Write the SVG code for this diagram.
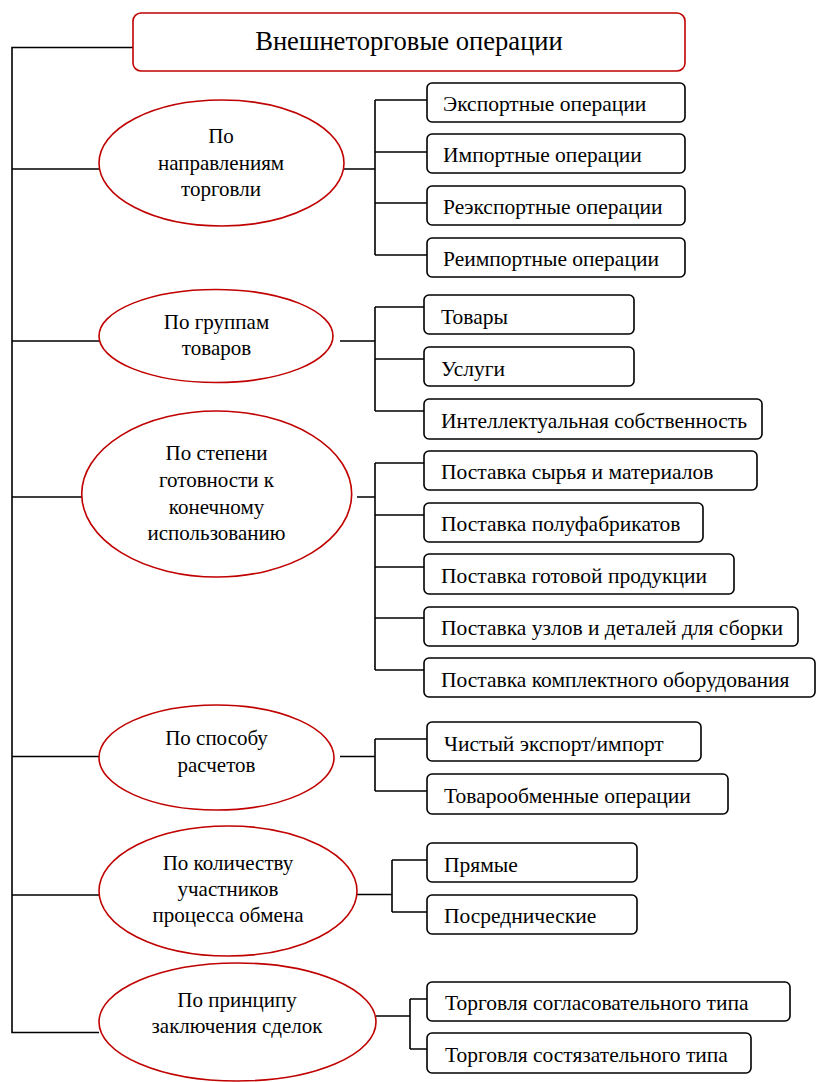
<svg xmlns="http://www.w3.org/2000/svg" width="816" height="1082" viewBox="0 0 816 1082">
<style>
.bg{fill:#fff}
.root{fill:#fff;stroke:#c00000;stroke-width:1.6}
.ell{fill:#fff;stroke:#c00000;stroke-width:1.6}
.box{fill:#fff;stroke:#000;stroke-width:1.6}
.con{fill:none;stroke:#000;stroke-width:1.6}
text{font-family:"Liberation Serif","Times New Roman",serif;fill:#000}
.rt{font-size:26.6px;text-anchor:middle}
.et{font-size:21px;text-anchor:middle}
.bt{font-size:21.5px}
</style>
<rect class="bg" x="0" y="0" width="816" height="1082"/>
<g id="connectors" class="con">
<path d="M133,47.5 H12 V1032.5 H99"/>
<path d="M12,169 H99 M12,341 H99 M12,497 H82 M12,756.5 H99 M12,895 H99"/>
<path d="M340,169 H375 M375,100 V255 M375,100 H427 M375,152 H427 M375,203 H427 M375,255 H427"/>
<path d="M340,341 H375 M375,307 V411 M375,307 H424 M375,359 H424 M375,411 H424"/>
<path d="M357,497 H375 M375,463 V670 M375,463 H424 M375,515 H424 M375,567 H424 M375,618 H424 M375,670 H424"/>
<path d="M340,756.5 H375 M375,739 V791 M375,739 H427 M375,791 H427"/>
<path d="M357,894.5 H392 M392,860 V912 M392,860 H427 M392,912 H427"/>
<path d="M376,1016 H410 M410,999 V1049 M410,999 H427 M410,1049 H427"/>
</g>
<g id="root"><rect class="root" x="133" y="13" width="552" height="58" rx="8"/><text class="rt" x="409" y="50">Внешнеторговые операции</text></g>
<g id="e1"><ellipse class="ell" cx="221.5" cy="163" rx="122.5" ry="63"/><text class="et" x="221" y="143">По</text><text class="et" x="221" y="170">направлениям</text><text class="et" x="221" y="196">торговли</text></g>
<g id="e2"><ellipse class="ell" cx="216" cy="336" rx="117" ry="46.5"/><text class="et" x="216.5" y="329">По группам</text><text class="et" x="216.5" y="355">товаров</text></g>
<g id="e3"><ellipse class="ell" cx="216.7" cy="494" rx="135" ry="83"/><text class="et" x="216.5" y="460">По степени</text><text class="et" x="216.5" y="487">готовности к</text><text class="et" x="216.5" y="514">конечному</text><text class="et" x="216.5" y="540">использованию</text></g>
<g id="e4"><ellipse class="ell" cx="216.5" cy="757.5" rx="117.5" ry="52.5"/><text class="et" x="216.5" y="745">По способу</text><text class="et" x="216.5" y="772">расчетов</text></g>
<g id="e5"><ellipse class="ell" cx="228" cy="891" rx="129" ry="65"/><text class="et" x="228" y="870">По количеству</text><text class="et" x="228" y="896">участников</text><text class="et" x="228" y="922">процесса обмена</text></g>
<g id="e6"><ellipse class="ell" cx="237.5" cy="1022" rx="138.5" ry="59"/><text class="et" x="237" y="1007">По принципу</text><text class="et" x="237" y="1033">заключения сделок</text></g>
<g id="b1"><rect class="box" x="427" y="83" width="258" height="39" rx="5"/><text class="bt" x="443" y="111">Экспортные операции</text></g>
<g id="b2"><rect class="box" x="427" y="134" width="258" height="39" rx="5"/><text class="bt" x="443" y="162">Импортные операции</text></g>
<g id="b3"><rect class="box" x="427" y="186" width="258" height="39" rx="5"/><text class="bt" x="443" y="214">Реэкспортные операции</text></g>
<g id="b4"><rect class="box" x="427" y="238" width="258" height="39" rx="5"/><text class="bt" x="443" y="266">Реимпортные операции</text></g>
<g id="b5"><rect class="box" x="424" y="295" width="210" height="39" rx="5"/><text class="bt" x="441" y="324">Товары</text></g>
<g id="b6"><rect class="box" x="424" y="347" width="210" height="39" rx="5"/><text class="bt" x="441" y="376">Услуги</text></g>
<g id="b7"><rect class="box" x="424" y="399" width="338" height="40" rx="5"/><text class="bt" x="441" y="428">Интеллектуальная собственность</text></g>
<g id="b8"><rect class="box" x="424" y="451" width="333" height="39" rx="5"/><text class="bt" x="441" y="479">Поставка сырья и материалов</text></g>
<g id="b9"><rect class="box" x="424" y="503" width="279" height="39" rx="5"/><text class="bt" x="441" y="531">Поставка полуфабрикатов</text></g>
<g id="b10"><rect class="box" x="424" y="554" width="310" height="40" rx="5"/><text class="bt" x="441" y="583">Поставка готовой продукции</text></g>
<g id="b11"><rect class="box" x="424" y="607" width="374" height="39" rx="5"/><text class="bt" x="441" y="635">Поставка узлов и деталей для сборки</text></g>
<g id="b12"><rect class="box" x="424" y="658" width="391" height="39" rx="5"/><text class="bt" x="441" y="687">Поставка комплектного оборудования</text></g>
<g id="b13"><rect class="box" x="427" y="722" width="274" height="39" rx="5"/><text class="bt" x="444" y="751">Чистый экспорт/импорт</text></g>
<g id="b14"><rect class="box" x="427" y="774" width="301" height="40" rx="5"/><text class="bt" x="444" y="803">Товарообменные операции</text></g>
<g id="b15"><rect class="box" x="427" y="843" width="210" height="39" rx="5"/><text class="bt" x="444" y="872">Прямые</text></g>
<g id="b16"><rect class="box" x="427" y="895" width="210" height="39" rx="5"/><text class="bt" x="444" y="923">Посреднические</text></g>
<g id="b17"><rect class="box" x="427" y="982" width="363" height="39" rx="5"/><text class="bt" x="445" y="1010">Торговля согласовательного типа</text></g>
<g id="b18"><rect class="box" x="427" y="1033" width="324" height="40" rx="5"/><text class="bt" x="445" y="1062">Торговля состязательного типа</text></g>
</svg>
